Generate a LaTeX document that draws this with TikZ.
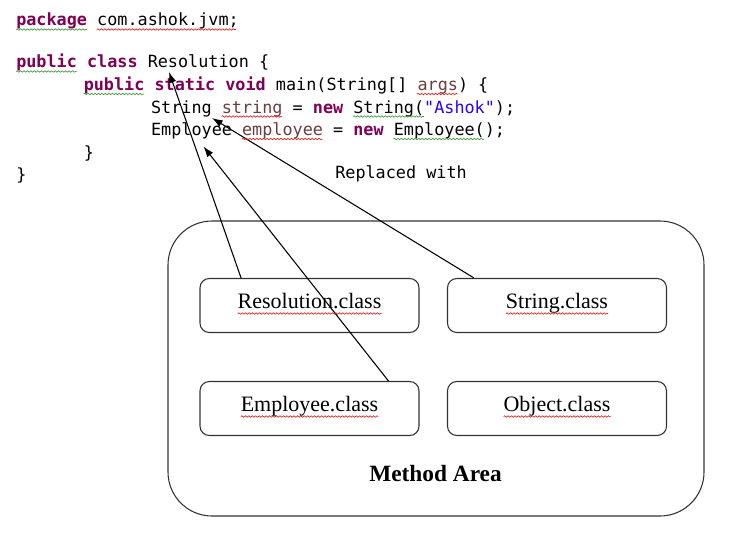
\documentclass[tikz,border=0pt]{standalone}
\usepackage{fontspec}
\setmainfont{Liberation Serif}
\setmonofont{DejaVu Sans Mono}
\usetikzlibrary{arrows.meta}
\usetikzlibrary{decorations.pathmorphing}
\definecolor{keyword}{HTML}{7F0055}
\definecolor{localvar}{HTML}{6A3E3E}
\definecolor{literal}{HTML}{2A00FF}
\definecolor{spellred}{HTML}{E0201B}
\definecolor{spellgreen}{HTML}{3C9A3C}
\newcommand{\jkw}[1]{\textcolor{keyword}{\bfseries #1}}
\newcommand{\jvar}[1]{\textcolor{localvar}{#1}}
\newcommand{\jstr}[1]{\textcolor{literal}{#1}}
\tikzset{
	code/.style={anchor=base west,inner sep=0pt,font=\ttfamily\fontsize{12.6}{15}\selectfont},
	classbox/.style={draw=black!80,line width=0.8pt,rounded corners=7pt,minimum width=164.25pt,minimum height=40.5pt,text height=0.7em,text depth=0.25em,font=\fontsize{16.5}{19}\selectfont},
	areabox/.style={draw=black!80,line width=0.8pt,rounded corners=33pt,minimum width=402pt,minimum height=221.25pt},
	link/.style={-{Latex[length=8pt,width=5.5pt]},line width=0.8pt},
	wavy/.style={decorate,decoration={snake,amplitude=0.55pt,segment length=2.6pt},line width=0.5pt}
}

\begin{document}
\begin{tikzpicture}[x=0.75pt,y=-0.75pt]
	\useasboundingbox (0,0) rectangle (730,535);
	\node[code] (pkg) at (16,26) {\jkw{package} com.ashok.jvm;};
	\node[code] (cls) at (16,68) {\jkw{public} \jkw{class} Resolution \{};
	\node[code] (mainm) at (83.5,90.5) {\jkw{public} \jkw{static} \jkw{void} main(String[] \jvar{args}) \{};
	\node[code] (strline) at (150.8,113) {String \jvar{string} = \jkw{new} String(\jstr{"Ashok"});};
	\node[code] (empline) at (150.8,135.5) {Employee \jvar{employee} = \jkw{new} Employee();};
	\node[code] (mainend) at (83.5,158) {\}};
	\node[code] (clsend) at (16,180.5) {\}};
	\node[code] (replaced) at (335,178) {Replaced with};
	\node[areabox] (area) at (436,368.5) {};
	\node[classbox] (resbox) at (309.5,305.5) {Resolution.class};
	\node[classbox] (strbox) at (557,305.5) {String.class};
	\node[classbox] (empbox) at (309.5,408.5) {Employee.class};
	\node[classbox] (objbox) at (557,408.5) {Object.class};
	\node[font=\bfseries\fontsize{17.5}{20}\selectfont] (arealabel) at (435.5,474) {Method Area};
	\coordinate (resref) at (169,72);
	\coordinate (strref) at (212,118);
	\coordinate (empref) at (203.5,146.5);
	\draw[link] (resbox.north west) ++(41.6,0) -- (resref);
	\draw[link] (strbox.north west) ++(27,0) -- (strref);
	\draw[link] (empbox.north west) ++(189,0) -- (empref);
	\foreach \xa/\xb/\yy/\cc in {16/86.8/29.5/spellgreen, 96.9/236/29.5/spellred,
		16/76.7/71.5/spellgreen, 83.5/144.2/94/spellgreen, 417.1/457.6/94/spellred,
		221.6/282.2/116.5/spellred, 353/423.8/116.5/spellgreen,
		241.8/322.7/139/spellred, 393.4/484.4/139/spellgreen,
		237.7/381.3/313.5/spellred, 506/608/313.5/spellred,
		240.8/378.2/416.5/spellred, 503.5/610.5/416.5/spellred}
		\draw[wavy,\cc] (\xa,\yy) -- (\xb,\yy);
\end{tikzpicture}
\end{document}
